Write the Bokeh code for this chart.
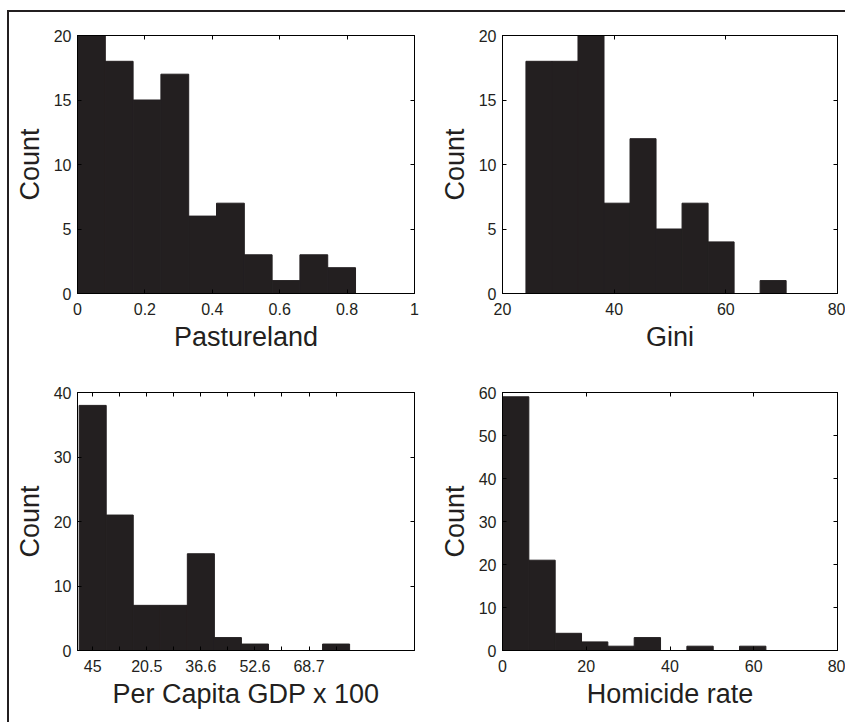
from bokeh.plotting import figure
from bokeh.layouts import gridplot
from bokeh.models import LinearAxis, FixedTicker, Range1d
from bokeh.embed import file_html
from bokeh.resources import INLINE

# ---------------- data ----------------
pasture_edges = [0.0, 0.0825, 0.165, 0.2475, 0.33, 0.4125, 0.495, 0.5775, 0.66, 0.7425, 0.825]
pasture_counts = [20, 18, 15, 17, 6, 7, 3, 1, 3, 2]
pasture_xticks = [0, 0.2, 0.4, 0.6, 0.8, 1]
pasture_xlabels = ["0", "0.2", "0.4", "0.6", "0.8", "1"]
pasture_yticks = [0, 5, 10, 15, 20]

gini_edges = [24.2, 28.86, 33.52, 38.18, 42.84, 47.5, 52.16, 56.82, 61.48, 66.14, 70.8]
gini_counts = [18, 18, 20, 7, 12, 5, 7, 4, 0, 1]
gini_xticks = [20, 40, 60, 80]
gini_xlabels = ["20", "40", "60", "80"]
gini_yticks = [0, 5, 10, 15, 20]

gdp_edges = [0.49, 8.52, 16.54, 24.57, 32.59, 40.62, 48.64, 56.67, 64.69, 72.72, 80.74]
gdp_counts = [38, 21, 7, 7, 15, 2, 1, 0, 0, 1]
gdp_xlabels = ["45", "", "20.5", "", "36.6", "", "52.6", "", "68.7", ""]
gdp_yticks = [0, 10, 20, 30, 40]

hom_edges = [0.0, 6.29, 12.58, 18.87, 25.16, 31.45, 37.74, 44.03, 50.32, 56.61, 62.9]
hom_counts = [59, 21, 4, 2, 1, 3, 0, 1, 0, 1]
hom_xticks = [0, 20, 40, 60, 80]
hom_xlabels = ["0", "20", "40", "60", "80"]
hom_yticks = [0, 10, 20, 30, 40, 50, 60]

INK = "#231f20"
FONT = "Liberation Sans"


def style_axis(ax, labels_visible=True):
    ax.major_tick_in = 4
    ax.major_tick_out = 0
    ax.minor_tick_in = 4
    ax.minor_tick_out = 0
    ax.axis_line_color = "black"
    ax.axis_line_width = 1
    ax.major_tick_line_color = "black"
    ax.minor_tick_line_color = "black"
    ax.major_label_text_font = FONT
    if labels_visible:
        ax.major_label_text_color = INK
        ax.major_label_text_font_size = "16px"
    else:
        ax.major_label_text_color = None
        ax.major_label_text_font_size = "1px"
        ax.major_label_standoff = 0


def panel(edges, counts, xr, yr, xticks, xlabels, yticks, xlabel,
          w, h, mbl, mbr, mbt, mbb):
    p = figure(width=w, height=h, x_range=Range1d(*xr), y_range=Range1d(*yr),
               output_backend="svg", toolbar_location=None,
               min_border_left=mbl, min_border_right=mbr,
               min_border_top=mbt, min_border_bottom=mbb)
    p.grid.visible = False
    p.outline_line_color = "black"
    p.background_fill_color = "white"
    p.border_fill_color = "white"
    p.quad(left=edges[:-1], right=edges[1:], bottom=0, top=counts,
           fill_color=INK, line_color=INK, line_width=1)

    # ticks with a label are major ticks; unlabelled ticks are drawn as (equal length) minor ticks
    major = [t for t, l in zip(xticks, xlabels) if l]
    minor = [t for t, l in zip(xticks, xlabels) if not l]
    overrides = {t: l for t, l in zip(xticks, xlabels) if l}

    xa = p.xaxis[0]
    xa.ticker = FixedTicker(ticks=major, minor_ticks=minor)
    style_axis(xa)
    xa.major_label_overrides = overrides
    xa.major_label_standoff = 9
    xa.axis_label = xlabel
    xa.axis_label_text_font = FONT
    xa.axis_label_text_font_size = "27px"
    xa.axis_label_text_font_style = "normal"
    xa.axis_label_text_color = INK
    xa.axis_label_standoff = 4

    ya = p.yaxis[0]
    ya.ticker = FixedTicker(ticks=yticks)
    style_axis(ya)
    ya.major_label_standoff = 6
    ya.axis_label = "Count"
    ya.axis_label_text_font = FONT
    ya.axis_label_text_font_size = "27px"
    ya.axis_label_text_font_style = "normal"
    ya.axis_label_text_color = INK
    ya.axis_label_standoff = 6

    top = LinearAxis(ticker=FixedTicker(ticks=major, minor_ticks=minor))
    style_axis(top, labels_visible=False)
    p.add_layout(top, "above")
    right = LinearAxis(ticker=FixedTicker(ticks=yticks))
    style_axis(right, labels_visible=False)
    p.add_layout(right, "right")
    return p


gdp_centers = [(a + b) / 2 for a, b in zip(gdp_edges[:-1], gdp_edges[1:])]

p1 = panel(pasture_edges, pasture_counts, (0, 1), (0, 20), pasture_xticks, pasture_xlabels,
           pasture_yticks, "Pastureland", 419, 358, 68, 14, 23, 77)
p2 = panel(gini_edges, gini_counts, (20, 80), (0, 20), gini_xticks, gini_xlabels,
           gini_yticks, "Gini", 417, 358, 74, 8, 23, 77)
p3 = panel(gdp_edges, gdp_counts, (0, 100), (0, 40), gdp_centers, gdp_xlabels,
           gdp_yticks, "Per Capita GDP x 100", 419, 352, 68, 14, 22, 72)
p4 = panel(hom_edges, hom_counts, (0, 80), (0, 60), hom_xticks, hom_xlabels,
           hom_yticks, "Homicide rate", 417, 352, 74, 8, 22, 72)

grid = gridplot([[p1, p2], [p3, p4]], toolbar_location=None)
grid.styles = {"margin-left": "7px", "margin-top": "10px",
               "border-left": "2px solid #231f20", "border-top": "2px solid #231f20"}

open("out.html", "w").write(file_html(grid, INLINE))
